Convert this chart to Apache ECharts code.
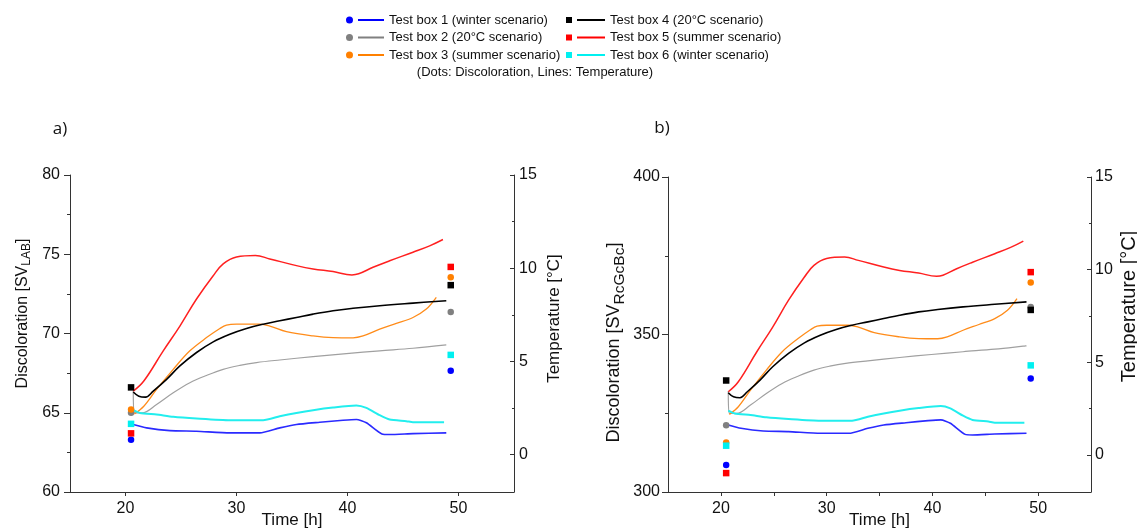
<!DOCTYPE html>
<html>
<head>
<meta charset="utf-8">
<script src="https://cdn.jsdelivr.net/npm/echarts@6/dist/echarts.min.js"></script>
<style>
html,body{margin:0;padding:0;background:#fff;}
#chart{width:1137px;height:530px;}
</style>
</head>
<body>
<div id="chart"></div>
<script>
// ---------- DATA ----------
const boxNames = [
  'Test box 1 (winter scenario)',
  'Test box 2 (20°C scenario)',
  'Test box 3 (summer scenario)',
  'Test box 4 (20°C scenario)',
  'Test box 5 (summer scenario)',
  'Test box 6 (winter scenario)'
];
const noteText = '(Dots: Discoloration, Lines: Temperature)';
const panelLabels = ['a)', 'b)'];
const xTickLabels = [20, 30, 40, 50];
const tempTickLabels = [0, 5, 10, 15];
const tempMinorTicks = [2.5, 7.5, 12.5];

// Discoloration measurement times [h]
const dotTimes = [20.5, 49.3];
// Discoloration SV_LAB (panel a)
const labBox1 = [63.3, 67.65];
const labBox2 = [65.0, 71.35];
const labBox3 = [65.2, 73.55];
const labBox4 = [66.6, 73.05];
const labBox5 = [63.7, 74.2];
const labBox6 = [64.3, 68.65];
// Discoloration SV_RcGcBc (panel b)
const rgbBox1 = [308.6, 336.0];
const rgbBox2 = [321.2, 358.7];
const rgbBox3 = [315.7, 366.5];
const rgbBox4 = [335.4, 357.8];
const rgbBox5 = [306.0, 369.8];
const rgbBox6 = [314.7, 340.2];

// Temperature [time h, °C]
const tempBox1 = [[20.7,1.62],[21.9,1.44],[24.0,1.29],[26.4,1.26],[29.4,1.17],[32.1,1.17],[33.9,1.44],[35.4,1.62],[37.5,1.74],[39.6,1.85],[40.8,1.89],[41.7,1.71],[43.1,1.11],[43.8,1.08],[45.9,1.13],[48.9,1.17]];
const tempBox2 = [[20.7,3.45],[20.8,2.25],[21.5,2.24],[22.8,2.69],[24.3,3.32],[25.8,3.86],[27.3,4.25],[28.8,4.58],[30.3,4.79],[31.8,4.94],[33.9,5.08],[36.9,5.26],[39.9,5.42],[42.9,5.57],[45.9,5.71],[48.9,5.89]];
const tempBox3 = [[20.8,2.19],[21.65,2.6],[22.8,3.5],[24.3,4.58],[25.8,5.57],[27.3,6.28],[28.5,6.77],[29.1,6.95],[30.0,7.0],[32.1,7.0],[33.0,6.9],[34.5,6.6],[36.9,6.37],[38.7,6.28],[40.5,6.27],[41.4,6.37],[42.9,6.73],[44.4,7.04],[45.9,7.36],[47.1,7.81],[48.0,8.44]];
const tempBox4 = [[20.7,3.36],[21.2,3.14],[21.8,3.09],[22.5,3.41],[23.7,4.04],[24.9,4.76],[26.4,5.48],[27.9,6.05],[29.4,6.46],[30.9,6.77],[32.4,7.0],[33.9,7.18],[35.4,7.36],[36.9,7.54],[38.7,7.72],[40.5,7.85],[42.9,7.99],[45.9,8.13],[48.9,8.26]];
const tempBox5 = [[20.7,3.41],[21.65,3.95],[23.4,5.57],[24.9,6.9],[26.4,8.35],[27.9,9.6],[28.8,10.23],[30.0,10.6],[31.7,10.68],[33.0,10.5],[35.4,10.14],[36.9,9.96],[38.7,9.82],[40.4,9.64],[41.0,9.7],[42.3,10.05],[43.8,10.4],[45.9,10.86],[47.4,11.2],[48.6,11.54]];
const tempBox6 = [[20.7,2.39],[21.3,2.24],[22.8,2.15],[24.3,2.03],[26.4,1.94],[29.4,1.85],[32.4,1.85],[33.9,2.06],[35.4,2.24],[36.9,2.39],[38.7,2.53],[40.8,2.64],[41.7,2.51],[42.9,2.12],[43.8,1.89],[45.3,1.8],[45.9,1.74],[48.7,1.74]];

// ---------- STYLE ----------
const dotColors  = ['#0000ff', '#808080', '#ff8000', '#000000', '#ff0000', '#00f0f0'];
const lineColors = ['#2a2aff', '#a0a0a0', '#ff8c1a', '#000000', '#ff2020', '#22eeee'];
const lineWidths = [1.6, 1.2, 1.3, 1.6, 1.5, 2];
const lineSmooth = [0.2, 0.35, 0.35, 0.4, 0.4, 0.2];
const dotSymbols = ['circle', 'circle', 'circle', 'rect', 'rect', 'rect'];
const FONT = 'Liberation Sans, Arial, sans-serif';
const AX = '#333';
const TXT = '#111';

const labData = [labBox1, labBox2, labBox3, labBox4, labBox5, labBox6];
const rgbData = [rgbBox1, rgbBox2, rgbBox3, rgbBox4, rgbBox5, rgbBox6];
const tempData = [tempBox1, tempBox2, tempBox3, tempBox4, tempBox5, tempBox6];

function pairs(times, vals) { return times.map((t, i) => [t, vals[i]]); }

const chart = echarts.init(document.getElementById('chart'), null, {renderer: 'canvas'});

const grids = [
  {left: 70, right: 623, top: 175, bottom: 38, outerBoundsMode: 'none', containLabel: false},
  {left: 668, right: 46, top: 177, bottom: 38, outerBoundsMode: 'none', containLabel: false}
];

function xAxis(gi, tickVals) {
  return {
    type: 'value', gridIndex: gi, min: 15, max: 55,
    name: 'Time [h]', nameLocation: 'middle', nameGap: 20, nameMoveOverlap: false,
    nameTextStyle: {fontFamily: FONT, fontSize: 17, color: TXT},
    axisLine: {show: true, onZero: false, lineStyle: {color: AX, width: 1}},
    axisTick: {show: true, inside: false, length: 4, customValues: tickVals, lineStyle: {color: AX}},
    axisLabel: {show: true, customValues: xTickLabels, margin: 9, fontFamily: FONT, fontSize: 16, color: TXT},
    splitLine: {show: false}
  };
}

function subName(mainTxt, subTxt) {
  return '{m|' + mainTxt + '}{s|' + subTxt + '}{m|]}';
}
function nameRich(mainSize, mainLH, subSize) {
  return {
    m: {fontFamily: FONT, fontSize: mainSize, color: TXT, lineHeight: mainLH, verticalAlign: 'middle'},
    s: {fontFamily: FONT, fontSize: subSize, color: TXT, lineHeight: subSize, verticalAlign: 'bottom'}
  };
}

function discAxis(gi, min, max, interval, nameStr, gap, margin, rich, pad) {
  return {
    type: 'value', gridIndex: gi, position: 'left', min: min, max: max, interval: interval,
    name: nameStr, nameLocation: 'middle', nameGap: gap, nameRotate: 90, nameMoveOverlap: false,
    nameTextStyle: {rich: rich, padding: pad},
    axisLine: {show: true, onZero: false, lineStyle: {color: AX, width: 1}},
    axisTick: {show: true, inside: false, length: 6, lineStyle: {color: AX}},
    minorTick: {show: true, splitNumber: 2, length: 3, lineStyle: {color: AX}},
    axisLabel: {margin: margin, fontFamily: FONT, fontSize: 16, color: TXT},
    splitLine: {show: false}, minorSplitLine: {show: false}
  };
}

function tempAxis(gi, gap, size, pad, margin) {
  return {
    type: 'value', gridIndex: gi, position: 'right', min: -2, max: 15,
    name: 'Temperature [°C]', nameLocation: 'middle', nameGap: gap, nameRotate: 90, nameMoveOverlap: false,
    nameTextStyle: {fontFamily: FONT, fontSize: size, color: TXT, padding: pad},
    axisLine: {show: true, onZero: false, lineStyle: {color: AX, width: 1}},
    axisTick: {show: true, inside: true, length: 4, customValues: tempTickLabels, lineStyle: {color: AX}},
    axisLabel: {customValues: tempTickLabels, margin: margin, fontFamily: FONT, fontSize: 16, color: TXT},
    splitLine: {show: false}
  };
}
function tempMinorAxis(gi) {
  return {
    type: 'value', gridIndex: gi, position: 'right', min: -2, max: 15,
    axisLine: {show: false},
    axisTick: {show: true, inside: true, length: 2, customValues: tempMinorTicks, lineStyle: {color: AX}},
    axisLabel: {show: false},
    splitLine: {show: false}
  };
}

const series = [];
for (let g = 0; g < 2; g++) {
  const dAxis = g === 0 ? 0 : 3;
  const tAxis = g === 0 ? 1 : 4;
  const discSet = g === 0 ? labData : rgbData;
  for (let i = 0; i < 6; i++) {
    series.push({
      type: 'scatter', name: boxNames[i], xAxisIndex: g, yAxisIndex: dAxis,
      data: pairs(dotTimes, discSet[i]), symbol: dotSymbols[i], symbolSize: 6.5,
      itemStyle: {color: dotColors[i], opacity: 1}, z: 3
    });
  }
  for (let i = 0; i < 6; i++) {
    series.push({
      type: 'line', name: boxNames[i], xAxisIndex: g, yAxisIndex: tAxis,
      data: tempData[i], showSymbol: false, symbol: 'none', smooth: lineSmooth[i],
      lineStyle: {color: lineColors[i], width: lineWidths[i]},
      itemStyle: {color: dotColors[i]}, z: 2
    });
  }
}

const circIcon = 'path://M0,3.5 A3.5,3.5 0 1,1 7,3.5 A3.5,3.5 0 1,1 0,3.5 Z M12,2.6 L38,2.6 L38,4.4 L12,4.4 Z';
const sqIcon = 'path://M0,0.5 L6,0.5 L6,6.5 L0,6.5 Z M11,2.6 L39,2.6 L39,4.4 L11,4.4 Z M0,0 L0.01,0 L0.01,7 L0,7 Z';

const legendBase = {
  orient: 'vertical', padding: 0, itemGap: 3.5, itemHeight: 7,
  textStyle: {fontFamily: FONT, fontSize: 13, color: TXT, lineHeight: 14},
  selectedMode: false
};

const option = {
  backgroundColor: '#fff',
  animation: false,
  grid: grids,
  legend: [
    Object.assign({}, legendBase, {left: 346, top: 13, itemWidth: 38,
      data: boxNames.slice(0, 3).map(n => ({name: n, icon: circIcon}))}),
    Object.assign({}, legendBase, {left: 566, top: 13, itemWidth: 39,
      data: boxNames.slice(3, 6).map(n => ({name: n, icon: sqIcon}))})
  ],
  graphic: [
    {type: 'text', style: {text: noteText, x: 535, y: 72, align: 'center', verticalAlign: 'middle',
      font: '13px ' + FONT, fill: TXT}},
    {type: 'text', style: {text: panelLabels[0], x: 60, y: 129, align: 'center', verticalAlign: 'middle',
      font: '17px "Open Sans", sans-serif', fill: TXT}},
    {type: 'text', style: {text: panelLabels[1], x: 662, y: 128, align: 'center', verticalAlign: 'middle',
      font: '17px "Open Sans", sans-serif', fill: TXT}}
  ],
  xAxis: [
    xAxis(0, xTickLabels),
    xAxis(1, [20, 25, 30, 35, 40, 45, 50])
  ],
  yAxis: [
    discAxis(0, 60, 80, 5, subName('Discoloration [SV', 'LAB'), 37, 10, nameRich(16, 21, 12), [0, 0, 0, 40]),
    tempAxis(0, 32, 17, [0, 0, 0, 30], 5),
    tempMinorAxis(0),
    discAxis(1, 300, 400, 50, subName('Discoloration [SV', 'RcGcBc'), 40, 8, nameRich(18, 28, 15.5), [0, 16, 0, 0]),
    tempAxis(1, 28, 20, [0, 0, 0, 56], 4),
    tempMinorAxis(1)
  ],
  series: series
};
chart.setOption(option);
</script>
</body>
</html>
